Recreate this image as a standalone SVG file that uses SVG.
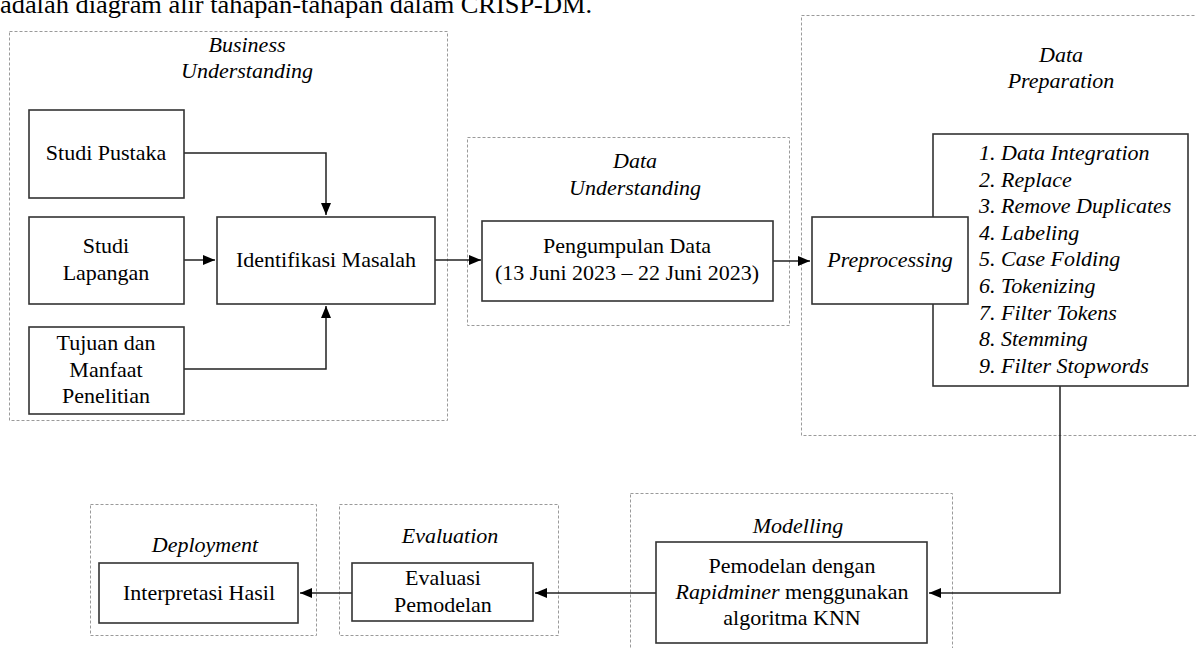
<svg xmlns="http://www.w3.org/2000/svg" width="1196" height="648" viewBox="0 0 1196 648">
<defs>
<marker id="ah" viewBox="0 0 12 10" refX="12" refY="5" markerWidth="12" markerHeight="10" markerUnits="userSpaceOnUse" orient="auto">
<path d="M0,0 L12,5 L0,10 Z" fill="#000"/>
</marker>
<style>
.crisp-lbl{font-family:'Liberation Serif','Times New Roman',serif;font-size:22px;fill:#000;text-anchor:middle}
.crisp-it{font-style:italic}
.crisp-left{text-anchor:start}
.crisp-grp{fill:none;stroke:#9a9a9a;stroke-width:1;stroke-dasharray:3,2}
.crisp-box{fill:#fff;stroke:#333;stroke-width:1.6}
.crisp-c{fill:none;stroke:#222;stroke-width:1.5}
</style>
</defs>
<rect width="1196" height="648" fill="#fff"/>
<text x="0" y="13" style="font-family:'Liberation Serif','Times New Roman',serif;font-size:25px" textLength="592" lengthAdjust="spacingAndGlyphs">adalah diagram alir tahapan-tahapan dalam CRISP-DM.</text>

<g id="business-understanding">
<rect class="crisp-grp" x="9.5" y="31.5" width="438" height="389"/>
<text class="crisp-lbl crisp-it" x="247" y="52">Business</text>
<text class="crisp-lbl crisp-it" x="247" y="78">Understanding</text>
</g>
<g id="data-understanding">
<rect class="crisp-grp" x="467.5" y="137.5" width="322" height="188"/>
<text class="crisp-lbl crisp-it" x="635" y="168">Data</text>
<text class="crisp-lbl crisp-it" x="635" y="195">Understanding</text>
</g>
<g id="data-preparation">
<rect class="crisp-grp" x="801.5" y="15.5" width="400" height="420"/>
<text class="crisp-lbl crisp-it" x="1061" y="62">Data</text>
<text class="crisp-lbl crisp-it" x="1061" y="88">Preparation</text>
</g>
<g id="modelling">
<rect class="crisp-grp" x="630.5" y="493.5" width="322" height="160"/>
<text class="crisp-lbl crisp-it" x="798" y="533">Modelling</text>
</g>
<g id="evaluation">
<rect class="crisp-grp" x="339.5" y="504.5" width="219" height="131"/>
<text class="crisp-lbl crisp-it" x="450" y="543">Evaluation</text>
</g>
<g id="deployment">
<rect class="crisp-grp" x="90.5" y="504.5" width="226" height="131"/>
<text class="crisp-lbl crisp-it" x="205" y="552">Deployment</text>
</g>

<g id="connectors">
<path class="crisp-c" d="M184,153 H326 V215" marker-end="url(#ah)"/>
<path class="crisp-c" d="M184,260 H215" marker-end="url(#ah)"/>
<path class="crisp-c" d="M184,369 H326 V306" marker-end="url(#ah)"/>
<path class="crisp-c" d="M435,260 H481" marker-end="url(#ah)"/>
<path class="crisp-c" d="M773,261 H810" marker-end="url(#ah)"/>
<path class="crisp-c" d="M1060,386 V593 H929" marker-end="url(#ah)"/>
<path class="crisp-c" d="M656,593 H535" marker-end="url(#ah)"/>
<path class="crisp-c" d="M352,593 H300" marker-end="url(#ah)"/>
</g>

<g id="studi-pustaka">
<rect class="crisp-box" x="29" y="110" width="155" height="88"/>
<text class="crisp-lbl" x="106" y="160">Studi Pustaka</text>
</g>
<g id="studi-lapangan">
<rect class="crisp-box" x="29" y="217" width="155" height="87"/>
<text class="crisp-lbl" x="106" y="253">Studi</text>
<text class="crisp-lbl" x="106" y="280">Lapangan</text>
</g>
<g id="tujuan-manfaat">
<rect class="crisp-box" x="29" y="327" width="155" height="87"/>
<text class="crisp-lbl" x="106" y="350">Tujuan dan</text>
<text class="crisp-lbl" x="106" y="377">Manfaat</text>
<text class="crisp-lbl" x="106" y="403">Penelitian</text>
</g>
<g id="identifikasi-masalah">
<rect class="crisp-box" x="217" y="217" width="218" height="87"/>
<text class="crisp-lbl" x="326" y="267">Identifikasi Masalah</text>
</g>
<g id="pengumpulan-data">
<rect class="crisp-box" x="482" y="221" width="291" height="80"/>
<text class="crisp-lbl" x="627" y="253">Pengumpulan Data</text>
<text class="crisp-lbl" x="627" y="280">(13 Juni 2023 – 22 Juni 2023)</text>
</g>
<g id="preprocessing-steps">
<rect class="crisp-box" x="933" y="134" width="255" height="252"/>
<text class="crisp-lbl crisp-it crisp-left" x="979" y="160">1. Data Integration</text>
<text class="crisp-lbl crisp-it crisp-left" x="979" y="187">2. Replace</text>
<text class="crisp-lbl crisp-it crisp-left" x="979" y="213">3. Remove Duplicates</text>
<text class="crisp-lbl crisp-it crisp-left" x="979" y="240">4. Labeling</text>
<text class="crisp-lbl crisp-it crisp-left" x="979" y="266">5. Case Folding</text>
<text class="crisp-lbl crisp-it crisp-left" x="979" y="293">6. Tokenizing</text>
<text class="crisp-lbl crisp-it crisp-left" x="979" y="320">7. Filter Tokens</text>
<text class="crisp-lbl crisp-it crisp-left" x="979" y="346">8. Stemming</text>
<text class="crisp-lbl crisp-it crisp-left" x="979" y="373">9. Filter Stopwords</text>
</g>
<g id="preprocessing">
<rect class="crisp-box" x="812" y="217" width="156" height="87"/>
<text class="crisp-lbl crisp-it" x="890" y="267">Preprocessing</text>
</g>
<g id="pemodelan">
<rect class="crisp-box" x="656" y="542" width="271" height="101"/>
<text class="crisp-lbl" x="792" y="573">Pemodelan dengan</text>
<text class="crisp-lbl" x="792" y="599"><tspan font-style="italic">Rapidminer</tspan> menggunakan</text>
<text class="crisp-lbl" x="792" y="625">algoritma KNN</text>
</g>
<g id="evaluasi-pemodelan">
<rect class="crisp-box" x="352" y="563" width="181" height="58"/>
<text class="crisp-lbl" x="443" y="585">Evaluasi</text>
<text class="crisp-lbl" x="443" y="612">Pemodelan</text>
</g>
<g id="interpretasi-hasil">
<rect class="crisp-box" x="99" y="563" width="199" height="60"/>
<text class="crisp-lbl" x="199" y="600">Interpretasi Hasil</text>
</g>
</svg>
